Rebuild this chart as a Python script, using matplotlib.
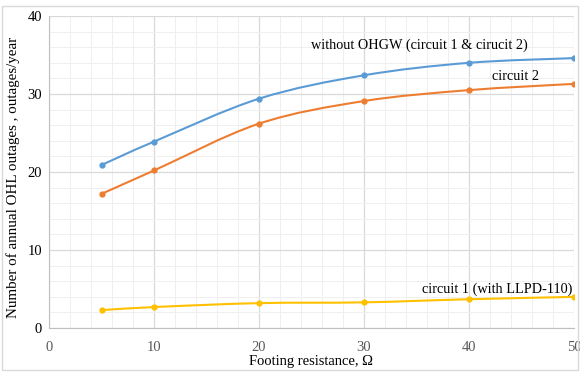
import numpy as np
import matplotlib
matplotlib.use('Agg')
import matplotlib.pyplot as plt
from matplotlib.path import Path
from matplotlib.patches import PathPatch, Rectangle

plt.rcParams['font.family'] = ['Liberation Serif', 'DejaVu Serif']

resistance = [5, 10, 20, 30, 40, 50]
no_ohgw = [20.9, 23.9, 29.4, 32.4, 34.0, 34.6]
circuit2 = [17.2, 20.2, 26.2, 29.1, 30.5, 31.3]
circuit1_llpd = [2.3, 2.7, 3.2, 3.3, 3.7, 4.0]

colors = ['#5B9BD5', '#ED7D31', '#FFC000']


def smooth_path(x, y, t=1 / 6):
    # excel-like smoothed line: cubic bezier segments with catmull-rom tangents
    x = np.asarray(x, float)
    y = np.asarray(y, float)
    verts = [(x[0], y[0])]
    codes = [Path.MOVETO]
    n = len(x)
    for i in range(n - 1):
        x0, y0 = (x[i - 1], y[i - 1]) if i > 0 else (x[i], y[i])
        x3, y3 = (x[i + 2], y[i + 2]) if i + 2 < n else (x[i + 1], y[i + 1])
        c1 = (x[i] + (x[i + 1] - x0) * t, y[i] + (y[i + 1] - y0) * t)
        c2 = (x[i + 1] - (x3 - x[i]) * t, y[i + 1] - (y3 - y[i]) * t)
        verts += [c1, c2, (x[i + 1], y[i + 1])]
        codes += [Path.CURVE4] * 3
    return Path(verts, codes)


fig = plt.figure(figsize=(5.8, 3.72), dpi=100)
ax = fig.add_axes([0.0845, 0.118, 0.905, 0.839])

for ys, c in zip([no_ohgw, circuit2, circuit1_llpd], colors):
    ax.add_patch(PathPatch(smooth_path(resistance, ys), fill=False, edgecolor=c, lw=1.5, zorder=3))
    ax.plot(resistance, ys, 'o', color=c, ms=3.5, zorder=4)

ax.set_xlim(0, 50)
ax.set_ylim(0, 40)
ax.set_xticks(range(0, 51, 10))
ax.set_yticks(range(0, 41, 10))
ax.set_xticks(range(0, 51, 2), minor=True)
ax.set_yticks(range(0, 41, 2), minor=True)
ax.grid(which='major', color='#d9d9d9', lw=0.9)
ax.grid(which='minor', color='#efefef', lw=0.7)
ax.set_axisbelow(True)
ax.tick_params(which='both', length=0)
ax.tick_params(axis='x', colors='#595959', labelsize=10.5, pad=9)
ax.tick_params(axis='y', labelcolor='#000000', labelsize=10.5, pad=5)
for s in ['top', 'right']:
    ax.spines[s].set_visible(False)
for s in ['left', 'bottom']:
    ax.spines[s].set_color('#bfbfbf')

ax.set_xlabel('Footing resistance, Ω', fontsize=10.5, labelpad=1)
ax.set_ylabel('Number of annual OHL outages , outages/year', fontsize=10.8)
ax.yaxis.set_label_coords(-0.056, 0.482)

ax.text(25.0, 36.2, 'without OHGW (circuit 1 & cirucit 2)', fontsize=10.3, va='center')
ax.text(42.2, 32.2, 'circuit 2', fontsize=10.3, va='center')
ax.text(35.5, 5.0, 'circuit 1 (with LLPD-110)', fontsize=10.3, va='center')

fig.patches.append(Rectangle((0.003, 0.005), 0.994, 0.98, transform=fig.transFigure,
                             fill=False, edgecolor='#d9d9d9', lw=1))

fig.savefig('out.png', dpi=100)
